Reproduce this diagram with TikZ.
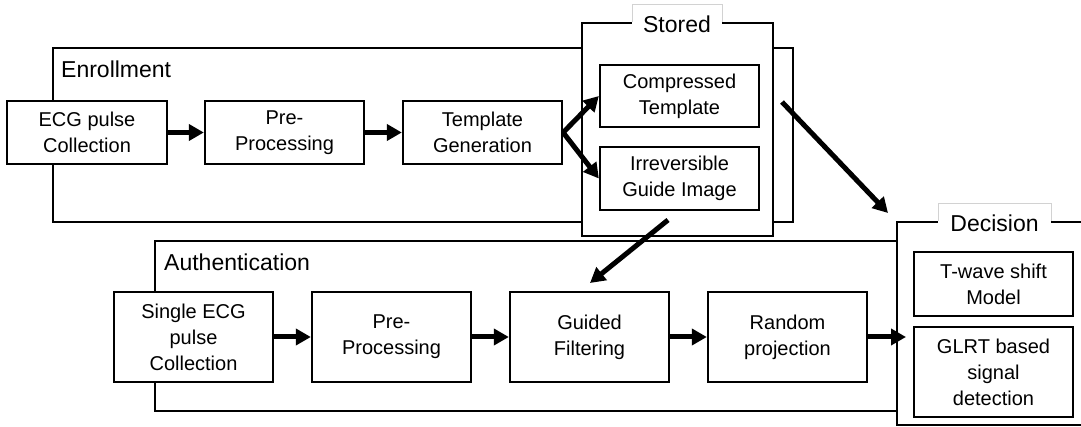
\documentclass[tikz,border=0pt]{standalone}
\usepackage{fontspec}
\setmainfont{Liberation Sans}
\usetikzlibrary{arrows.meta}
\begin{document}
\begin{tikzpicture}[x=1pt,y=-1pt,
  box/.style={draw, line width=2.3pt, fill=white, align=center, inner sep=0pt,
    font=\fontsize{20}{26}\selectfont, minimum width=159pt},
  grp/.style={draw, line width=2.3pt, inner sep=0pt},
  lbl/.style={font=\fontsize{23}{28}\selectfont, inner sep=0pt},
  arr/.style={line width=5pt, -{Triangle[length=15pt,width=16pt]}},
  tagline/.style={draw=gray!35, line width=0.8pt}
]
\useasboundingbox (0,0) rectangle (1081,427);
% group frames
\node[grp, minimum width=740pt, minimum height=174pt] (enr) at (423,135) {};
\node[grp, fill=white, minimum width=191pt, minimum height=213pt] (sto) at (677.5,129.5) {};
\node[grp, minimum width=845pt, minimum height=170pt] (auth) at (577.5,326) {};
\node[grp, fill=white, minimum width=203pt, minimum height=203pt] (dec) at (998.5,323.5) {};
% title tags
\fill[white] (632,4) rectangle (722,40);
\draw[tagline] (632,22) -- (632,4) -- (722,4) -- (722,22);
\node[lbl] (stl) at (677,24) {Stored};
\fill[white] (938,203) rectangle (1051,240);
\draw[tagline] (938,221) -- (938,203) -- (1051,203) -- (1051,221);
\node[lbl] (dcl) at (994.5,223) {Decision};
\node[lbl, anchor=west] (enl) at (61,69) {Enrollment};
\node[lbl, anchor=west] (aul) at (164,262) {Authentication};
% blocks
\node[box, minimum width=160pt, minimum height=63pt] (ecg) at (87,132.5) {ECG pulse\\Collection};
\node[box, minimum height=63pt] (pre1) at (284.5,132.5) {Pre-\\Processing};
\node[box, minimum height=63pt] (tg) at (482.5,132.5) {Template\\Generation};
\node[box, minimum height=62pt] (ct) at (679.5,96) {Compressed\\Template};
\node[box, minimum height=63pt] (ig) at (679.5,178.5) {Irreversible\\Guide Image};
\node[box, minimum height=90pt] (sec) at (193.5,337) {Single ECG\\pulse\\Collection};
\node[box, minimum height=90pt] (pre2) at (391.5,337) {Pre-\\Processing};
\node[box, minimum height=90pt] (gf) at (589.5,337) {Guided\\Filtering};
\node[box, minimum height=90pt] (rp) at (787.5,337) {Random\\projection};
\node[box, minimum height=64pt] (tw) at (993.5,284) {T-wave shift\\Model};
\node[box, minimum height=90pt] (gl) at (993.5,372) {GLRT based\\signal\\detection};
% arrows
\draw[arr] (ecg.east) -- (pre1.west);
\draw[arr] (pre1.east) -- (tg.west);
\draw[arr] (tg.east) -- (ct.west);
\draw[arr] (tg.east) -- (ig.west);
\coordinate (s1) at (782,102);
\coordinate (s2) at (888,213);
\draw[arr] (s1) -- (s2);
\coordinate (g1) at (668,220);
\coordinate (g2) at (590,283);
\draw[arr] (g1) -- (g2);
\draw[arr] (sec.east) -- (pre2.west);
\draw[arr] (pre2.east) -- (gf.west);
\draw[arr] (gf.east) -- (rp.west);
\coordinate (d1) at (906,337);
\draw[arr] (rp.east) -- (d1);
\end{tikzpicture}
\end{document}
